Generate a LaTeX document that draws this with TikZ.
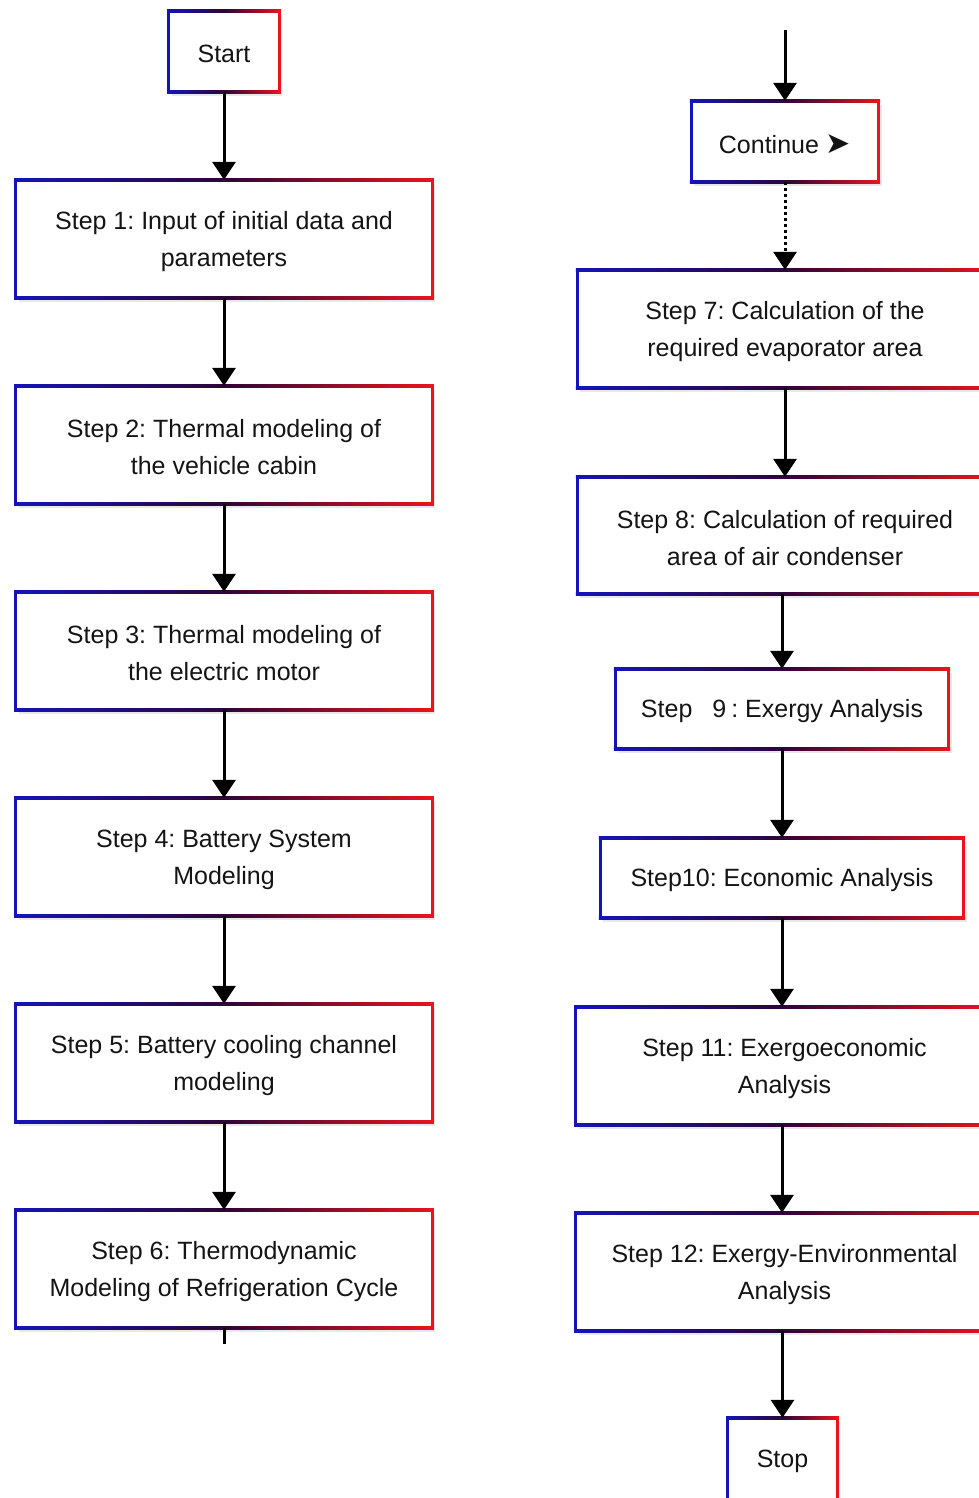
\documentclass[tikz,border=0pt]{standalone}
\usepackage{fontspec}
\setmainfont{Liberation Sans}
\newfontfamily\symfont{DejaVu Sans}
\usetikzlibrary{arrows.meta,calc,backgrounds}
\definecolor{fb}{RGB}{20,20,185}
\definecolor{fr}{RGB}{235,20,30}
\definecolor{fm}{RGB}{45,5,55}
\frenchspacing
\begin{document}
\begin{tikzpicture}[x=1pt,y=-1pt,
  stepbox/.style={rectangle, inner sep=0pt},
  lbl/.style={inner sep=0pt, align=center, text=black!92, yshift=-2.5pt,
    font=\fontsize{25}{37}\selectfont\frenchspacing},
  conn/.style={line width=3pt, -{Triangle[length=18pt,width=23pt]}},
]
\useasboundingbox (0,0) rectangle (979,1498);
% left column
\node[stepbox, minimum width=110pt, minimum height=81pt, label={[lbl]center:Start}] (start) at (224,51.5) {};
\node[stepbox, minimum width=416pt, minimum height=118pt, label={[lbl]center:{Step 1: Input of initial data and\\parameters}}] (s1) at (224,239) {};
\node[stepbox, minimum width=416pt, minimum height=118pt, label={[lbl]center:{Step 2: Thermal modeling of\\the vehicle cabin}}] (s2) at (224,445) {};
\node[stepbox, minimum width=416pt, minimum height=118pt, label={[lbl]center:{Step 3: Thermal modeling of\\the electric motor}}] (s3) at (224,651) {};
\node[stepbox, minimum width=416pt, minimum height=118pt, label={[lbl]center:{Step 4: Battery System\\Modeling}}] (s4) at (224,857) {};
\node[stepbox, minimum width=416pt, minimum height=118pt, label={[lbl]center:{Step 5: Battery cooling channel\\modeling}}] (s5) at (224,1063) {};
\node[stepbox, minimum width=416pt, minimum height=118pt, label={[lbl]center:{Step 6: Thermodynamic\\Modeling of Refrigeration Cycle}}] (s6) at (224,1269) {};
% right column
\node[stepbox, minimum width=187pt, minimum height=81pt, label={[lbl]center:{Continue {\symfont\fontsize{30}{30}\selectfont ➤}}}] (cont) at (785,141.5) {};
\node[stepbox, minimum width=415pt, minimum height=118pt, label={[lbl]center:{Step 7: Calculation of the\\required evaporator area}}] (s7) at (785,329) {};
\node[stepbox, minimum width=415pt, minimum height=117pt, label={[lbl]center:{Step 8: Calculation of required\\area of air condenser}}] (s8) at (785,535.5) {};
\node[stepbox, minimum width=333pt, minimum height=80pt, label={[lbl]center:{Step\hspace{20pt}9\hspace{5pt}: Exergy Analysis}}] (s9) at (782,709) {};
\node[stepbox, minimum width=363pt, minimum height=80pt, label={[lbl]center:{Step10: Economic Analysis}}] (s10) at (782,878) {};
\node[stepbox, minimum width=417pt, minimum height=118pt, label={[lbl]center:{Step 11: Exergoeconomic\\Analysis}}] (s11) at (784.5,1066) {};
\node[stepbox, minimum width=417pt, minimum height=118pt, label={[lbl]center:{Step 12: Exergy-Environmental\\Analysis}}] (s12) at (784.5,1272) {};
\node[stepbox, minimum width=109pt, minimum height=82pt, label={[lbl]center:Stop}] (stop) at (782.5,1459) {};
% backgrounds and shadows
\begin{pgfonlayer}{background}
  \fill[white] (0,0) rectangle (979,1498);
  \foreach \n in {start,s1,s2,s3,s4,s5,s6,cont,s7,s8,s9,s10,s11,s12,stop} {
    \fill[black!9] ($(\n.north west)+(3pt,-4pt)$) rectangle ($(\n.south east)+(3pt,-4pt)$);
    \fill[white] (\n.north west) rectangle (\n.south east);
  }
\end{pgfonlayer}
% gradient frames
\foreach \n in {start,s1,s2,s3,s4,s5,s6,cont,s7,s8,s9,s10,s11,s12,stop} {
  \shade[left color=fb, right color=fr, middle color=fm]
    ($(\n.north west)+(-1.5pt,1.5pt)$) rectangle ($(\n.north east)+(1.5pt,-1.5pt)$);
  \shade[left color=fb, right color=fr, middle color=fm]
    ($(\n.south west)+(-1.5pt,1.5pt)$) rectangle ($(\n.south east)+(1.5pt,-1.5pt)$);
  \fill[fb] ($(\n.north west)+(-1.5pt,1.5pt)$) rectangle ($(\n.south west)+(1.5pt,-1.5pt)$);
  \fill[fr] ($(\n.north east)+(-1.5pt,1.5pt)$) rectangle ($(\n.south east)+(1.5pt,-1.5pt)$);
}
% connectors left
\draw[conn] (start.south) -- (s1.north);
\draw[conn] (s1.south) -- (s2.north);
\draw[conn] (s2.south) -- (s3.north);
\draw[conn] (s3.south) -- (s4.north);
\draw[conn] (s4.south) -- (s5.north);
\draw[conn] (s5.south) -- (s6.north);
\coordinate (s6end) at (224,1344);
\draw[line width=3pt] (s6.south) -- (s6end);
% connectors right
\coordinate (inc) at (785,30);
\draw[conn] (inc) -- (cont.north);
\draw[conn, dash pattern=on 3pt off 3pt] (cont.south) -- (s7.north);
\draw[conn] (s7.south) -- (s8.north);
\draw[conn] (s8.south -| s9.north) -- (s9.north);
\draw[conn] (s9.south) -- (s10.north);
\draw[conn] (s10.south) -- (s10.south |- s11.north);
\draw[conn] (s11.south -| s10.south) -- (s10.south |- s12.north);
\draw[conn] (s12.south -| stop.north) -- (stop.north);
\end{tikzpicture}
\end{document}
